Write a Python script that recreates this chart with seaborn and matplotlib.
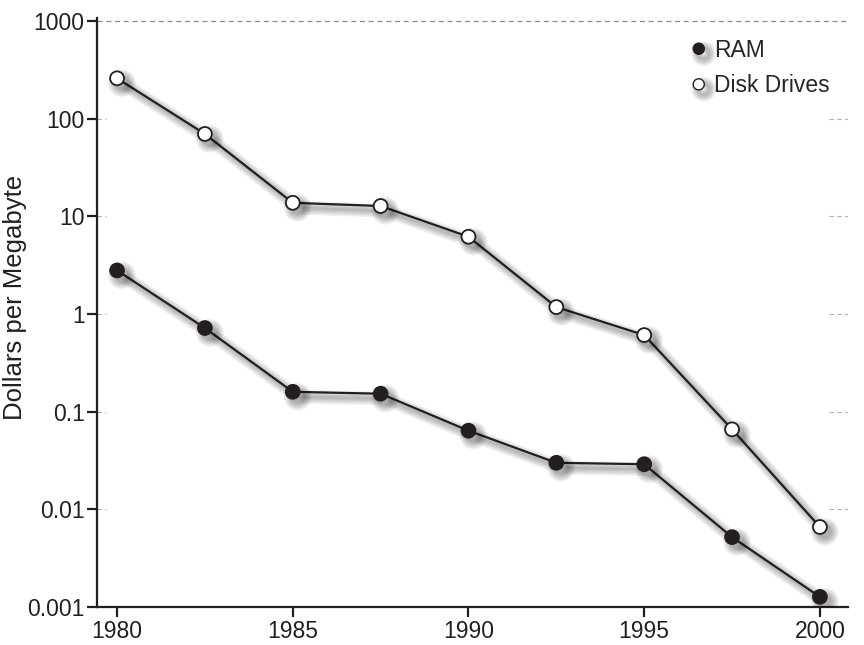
import numpy as np
import pandas as pd
import matplotlib
matplotlib.use("Agg")
import matplotlib.pyplot as plt
import matplotlib.patheffects as pe
from matplotlib.lines import Line2D
import seaborn as sns

# Data
years = [1980, 1982.5, 1985, 1987.5, 1990, 1992.5, 1995, 1997.5, 2000]
ram = [2.8, 0.72, 0.16, 0.153, 0.064, 0.030, 0.029, 0.0052, 0.00127]
disk = [260, 70, 13.8, 12.8, 6.2, 1.18, 0.61, 0.066, 0.0066]
xticks = [1980, 1985, 1990, 1995, 2000]
yticks = [0.001, 0.01, 0.1, 1, 10, 100, 1000]
ytick_labels = ["0.001", "0.01", "0.1", "1", "10", "100", "1000"]

sns.set_style("ticks")
plt.rcParams["font.family"] = ["Liberation Sans", "DejaVu Sans"]
ink = "#231f20"
fs = 16.5

df = pd.DataFrame({"year": years * 2,
                   "price": ram + disk,
                   "kind": ["RAM"] * len(years) + ["Disk Drives"] * len(years)})

fig = plt.figure(figsize=(8.64, 6.45), dpi=100)
ax = fig.add_axes([0.1123, 0.0589, 0.8692, 0.913])

# soft blurred-looking shadow: stack of faint offset shadows
shadow = [pe.SimpleLineShadow(offset=(3.5, -3.5), shadow_color="k", alpha=0.06, linewidth=w)
          for w in (2, 4, 6, 8, 10)] + [pe.Normal()]

for kind, face in [("Disk Drives", "white"), ("RAM", ink)]:
    sub = df[df["kind"] == kind]
    sns.lineplot(data=sub, x="year", y="price", ax=ax, color=ink, linewidth=1.6,
                 marker="o", markersize=10, markerfacecolor=face,
                 markeredgecolor=ink, markeredgewidth=1.3, legend=False,
                 path_effects=shadow, zorder=3)

ax.set_yscale("log")
ax.set_ylim(0.001, 1075)
ax.set_xlim(1979.43, 2000.8)

# gridlines: full dashed line at the top, short dashes at the ends elsewhere
ax.axhline(1000, color="#8a8a8a", linestyle=(0, (4, 3)), linewidth=0.9, zorder=1)
for v in yticks[1:-1]:
    ax.axhline(v, xmin=0.0, xmax=0.012, color="#b0b0b0", linestyle=(0, (4, 3)), linewidth=0.8)
    ax.axhline(v, xmin=0.975, xmax=1.0, color="#b0b0b0", linestyle=(0, (4, 3)), linewidth=0.8)

ax.set_xticks(xticks)
ax.set_xticklabels([str(x) for x in xticks])
ax.set_yticks(yticks)
ax.set_yticklabels(ytick_labels)
ax.minorticks_off()
ax.tick_params(axis="both", direction="out", length=7, width=1.6, color=ink,
               labelsize=fs, labelcolor=ink, pad=2)

sns.despine(ax=ax)
for s in ("left", "bottom"):
    ax.spines[s].set_linewidth(1.6)
    ax.spines[s].set_color(ink)

ax.set_xlabel("")
ax.set_ylabel("Dollars per Megabyte", fontsize=18.5, color=ink)
ax.yaxis.set_label_coords(-0.093, 0.526)

handles = [Line2D([], [], linestyle="none", marker="o", markersize=8,
                  markerfacecolor=ink, markeredgecolor=ink, path_effects=shadow),
           Line2D([], [], linestyle="none", marker="o", markersize=8,
                  markerfacecolor="white", markeredgecolor=ink, path_effects=shadow)]
ax.legend(handles, ["RAM", "Disk Drives"], loc="upper left",
          bbox_to_anchor=(0.757, 1.0), frameon=False, fontsize=fs,
          handletextpad=0.1, labelspacing=0.55, handlelength=1.1)

fig.savefig("out.png", dpi=100)
